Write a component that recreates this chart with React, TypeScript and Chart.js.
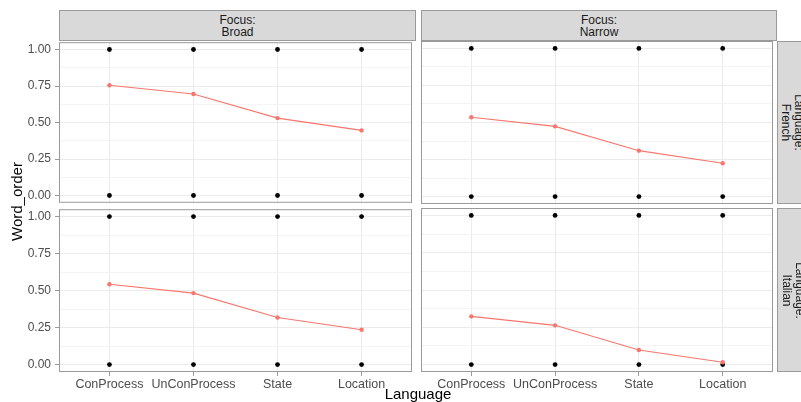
import React, { useEffect, useRef } from "react";
import { Chart, registerables } from "chart.js";

Chart.register(...registerables);

// ---------- data ----------
const categories = ["ConProcess", "UnConProcess", "State", "Location"];
const broadFrench = [0.755, 0.695, 0.53, 0.446];
const narrowFrench = [0.535, 0.474, 0.31, 0.225];
const broadItalian = [0.543, 0.483, 0.318, 0.235];
const narrowItalian = [0.323, 0.263, 0.098, 0.015];
const rawOutcomes = [0, 1];
const yTicks = [0, 0.25, 0.5, 0.75, 1];
const yMinorTicks = [0.125, 0.375, 0.625, 0.875];
const focusLabels = ["Broad", "Narrow"];
const languageLabels = ["French", "Italian"];
const xTitle = "Language";
const yTitle = "Word_order";

const FONT = "'Liberation Sans', Arial, Helvetica, sans-serif";
const BORDER = "#9a9a9a";
const GRID = "#EBEBEB";
const MINOR = "#F4F4F4";
const RED = "#F8766D";

// layout geometry (pixels)
const COLS = [
  { canvasLeft: 0, canvasWidth: 416, yAxisWidth: 59, plotLeft: 59, plotWidth: 357 },
  { canvasLeft: 416, canvasWidth: 361, yAxisWidth: 5, plotLeft: 421, plotWidth: 356 },
];
const ROWS = [
  { canvasTop: 31, plotTop: 41, plotHeight: 163, xAxisHeight: 0, padBottom: 10 },
  { canvasTop: 198, plotTop: 208, plotHeight: 164, xAxisHeight: 24, padBottom: 0 },
];
const PAD_TOP = 10;

const borderPlugin = {
  id: "panelBorder",
  afterDraw(chart: any) {
    const { ctx, chartArea } = chart;
    ctx.save();
    ctx.strokeStyle = BORDER;
    ctx.lineWidth = 1;
    ctx.strokeRect(
      chartArea.left + 0.5,
      chartArea.top + 0.5,
      chartArea.right - chartArea.left - 1,
      chartArea.bottom - chartArea.top - 1
    );
    ctx.restore();
  },
};

function Panel({ values, col, row }: { values: number[]; col: number; row: number }) {
  const ref = useRef<HTMLCanvasElement | null>(null);
  const c = COLS[col];
  const r = ROWS[row];
  const showY = col === 0;
  const showX = row === 1;
  const height = PAD_TOP + r.plotHeight + r.xAxisHeight + r.padBottom;

  useEffect(() => {
    if (!ref.current) return;
    const meanData = categories.map((_, i) => ({ x: i, y: values[i] }));
    const rawData = categories.flatMap((_, i) => rawOutcomes.map((o) => ({ x: i, y: o })));
    const allY = [...yTicks, ...yMinorTicks].sort((a, b) => a - b);
    const chart = new Chart(ref.current, {
      type: "scatter",
      data: {
        datasets: [
          {
            data: meanData,
            showLine: true,
            borderColor: RED,
            backgroundColor: RED,
            borderWidth: 1.1,
            pointRadius: 2.2,
            pointBorderWidth: 0,
            order: 0,
          },
          {
            data: rawData,
            backgroundColor: "#000000",
            borderWidth: 0,
            pointRadius: 2.4,
            pointBorderWidth: 0,
            order: 1,
          },
        ],
      },
      options: {
        animation: false,
        responsive: false,
        devicePixelRatio: 1,
        events: [],
        layout: { padding: { top: PAD_TOP, bottom: r.padBottom, left: 0, right: 0 } },
        plugins: { legend: { display: false }, tooltip: { enabled: false } },
        scales: {
          x: {
            type: "linear",
            min: -0.6,
            max: 3.6,
            afterBuildTicks: (scale: any) => {
              scale.ticks = categories.map((_, i) => ({ value: i }));
            },
            afterFit: (scale: any) => {
              scale.height = r.xAxisHeight;
            },
            border: { display: false },
            grid: {
              color: GRID,
              lineWidth: 1,
              drawTicks: showX,
              tickLength: 4,
              tickColor: BORDER,
            },
            ticks: {
              display: showX,
              padding: 1,
              color: "#4D4D4D",
              font: { family: FONT, size: 12.5 },
              maxRotation: 0,
              autoSkip: false,
              callback: (v: any) => categories[v as number] ?? "",
            },
          },
          y: {
            type: "linear",
            min: -0.05,
            max: 1.05,
            afterBuildTicks: (scale: any) => {
              scale.ticks = allY.map((v) => ({ value: v }));
            },
            afterFit: (scale: any) => {
              scale.width = c.yAxisWidth;
            },
            border: { display: false },
            grid: {
              color: (ctx: any) => (ctx.tick && yTicks.includes(ctx.tick.value) ? GRID : MINOR),
              lineWidth: 1,
              drawTicks: showY,
              tickLength: 4,
              tickColor: (ctx: any) =>
                ctx.tick && yTicks.includes(ctx.tick.value) ? BORDER : "rgba(0,0,0,0)",
            },
            ticks: {
              display: showY,
              padding: 4,
              color: "#4D4D4D",
              font: { family: FONT, size: 12 },
              autoSkip: false,
              callback: (v: any) => (yTicks.includes(v as number) ? (v as number).toFixed(2) : ""),
            },
          },
        },
      } as any,
      plugins: [borderPlugin],
    });
    return () => chart.destroy();
  }, []);

  return (
    <canvas
      ref={ref}
      width={c.canvasWidth}
      height={height}
      style={{
        position: "absolute",
        left: c.canvasLeft,
        top: r.canvasTop,
        width: c.canvasWidth,
        height: height,
      }}
    />
  );
}

const stripBase: React.CSSProperties = {
  position: "absolute",
  boxSizing: "border-box",
  background: "#D9D9D9",
  border: `1px solid ${BORDER}`,
  color: "#1A1A1A",
  fontFamily: FONT,
  fontSize: 12,
  lineHeight: "12.5px",
  display: "flex",
  flexDirection: "column",
  alignItems: "center",
  justifyContent: "center",
  textAlign: "center",
};

export default function App() {
  useEffect(() => {
    document.body.style.margin = "0";
  }, []);
  const panels = [
    { values: broadFrench, col: 0, row: 0 },
    { values: narrowFrench, col: 1, row: 0 },
    { values: broadItalian, col: 0, row: 1 },
    { values: narrowItalian, col: 1, row: 1 },
  ];
  const stripW = 31;
  return (
    <div
      style={{
        position: "absolute",
        left: 0,
        top: 0,
        width: 801,
        height: 402,
        overflow: "hidden",
        background: "#ffffff",
        fontFamily: FONT,
      }}
    >
      {panels.map((p, i) => (
        <Panel key={i} values={p.values} col={p.col} row={p.row} />
      ))}
      {focusLabels.map((f, i) => (
        <div
          key={"top" + i}
          style={{
            ...stripBase,
            left: COLS[i].plotLeft,
            top: 10,
            width: COLS[i].plotWidth,
            height: 31,
            paddingTop: 1,
          }}
        >
          <div>Focus:</div>
          <div>{f}</div>
        </div>
      ))}
      {languageLabels.map((l, i) => (
        <div
          key={"right" + i}
          style={{
            position: "absolute",
            boxSizing: "border-box",
            background: "#D9D9D9",
            border: `1px solid ${BORDER}`,
            left: 777,
            top: ROWS[i].plotTop,
            width: stripW,
            height: ROWS[i].plotHeight,
          }}
        >
          <div
            style={{
              ...stripBase,
              background: "transparent",
              border: "none",
              left: (stripW - 2 - ROWS[i].plotHeight) / 2,
              top: (ROWS[i].plotHeight - 2 - stripW) / 2,
              width: ROWS[i].plotHeight,
              height: stripW,
              transform: "rotate(90deg)",
            }}
          >
            <div>Language:</div>
            <div>{l}</div>
          </div>
        </div>
      ))}
      <div
        style={{
          position: "absolute",
          left: 0,
          width: 836,
          top: 385,
          height: 17,
          lineHeight: "17px",
          fontSize: 15,
          fontWeight: 400,
          color: "#000",
          textAlign: "center",
        }}
      >
        {xTitle}
      </div>
      <div
        style={{
          position: "absolute",
          left: 8,
          top: 142,
          width: 17,
          height: 120,
          lineHeight: "17px",
          fontSize: 15,
          fontWeight: 400,
          color: "#000",
          textAlign: "center",
          writingMode: "vertical-rl",
          transform: "rotate(180deg)",
        }}
      >
        {yTitle}
      </div>
    </div>
  );
}
